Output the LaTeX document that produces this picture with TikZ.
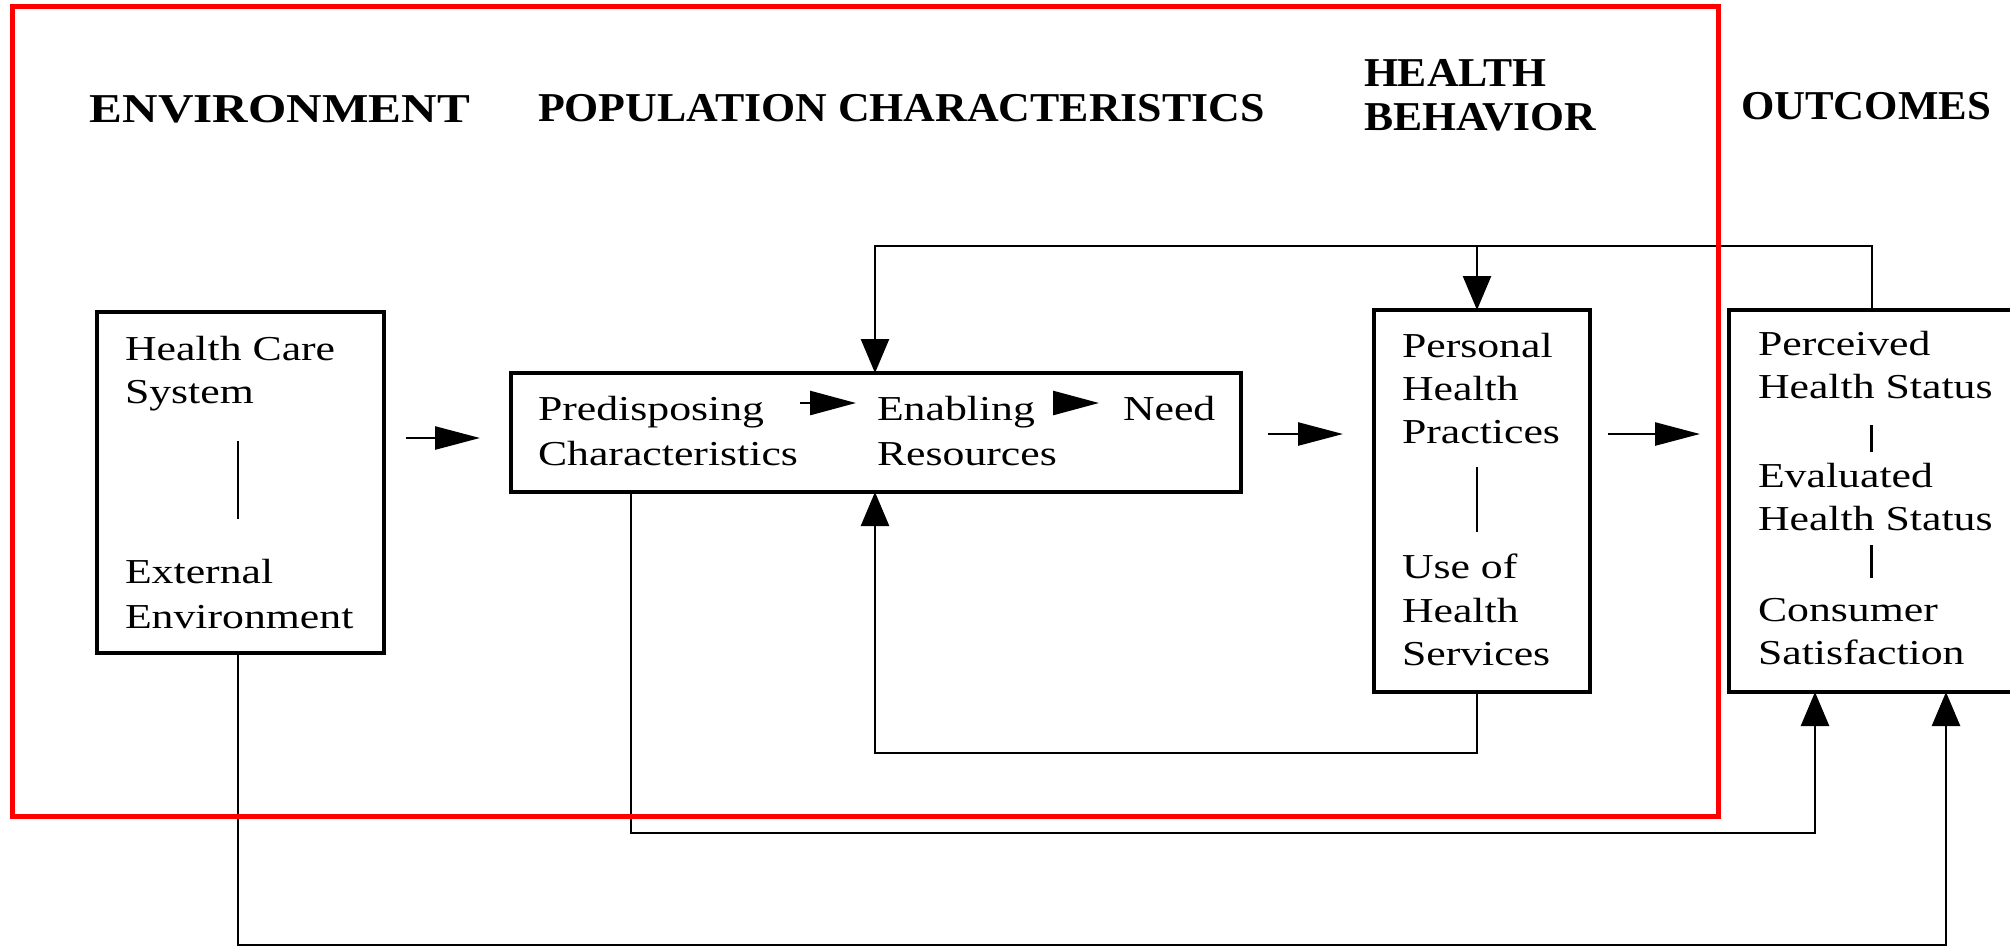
\documentclass[tikz,border=0pt]{standalone}
\usepackage{fontspec}
\setmainfont{Liberation Serif}
\usepackage{graphicx}
\usetikzlibrary{arrows.meta,fit,calc}
\newcommand\bt[1]{\scalebox{1.25}[1]{#1}}
\newcommand\hdr[2][1.065]{\scalebox{#1}[1]{#2}}
\begin{document}
\begin{tikzpicture}[x=0.5pt,y=-0.5pt,
  box/.style={draw, line width=2.2pt, inner sep=0pt, outer sep=0pt},
  conn/.style={line width=1.3pt},
  fb/.style={conn, -{Triangle[length=17pt,width=14pt]}},
  bigarr/.style={conn, -{Triangle[length=22.5pt,width=11.5pt]}},
  inarr/.style={conn, -{Triangle[length=23pt,width=12pt]}},
  txt/.style={anchor=base west, inner sep=0pt, outer sep=0pt, font=\fontsize{17.5}{21}\selectfont},
  hd/.style={anchor=base west, inner sep=0pt, outer sep=0pt, font=\fontsize{20.5}{24}\selectfont\bfseries},
  bar/.style={line width=1.2pt},
  obar/.style={line width=1.5pt},
  redframe/.style={draw=red, line width=2.5pt}]
\useasboundingbox (0,0) rectangle (2010,950);
\clip (0,0) rectangle (2010,950);

% headers
\node[hd] (hEnv) at (90,122) {\hdr[1.2]{ENVIRONMENT}};
\node[hd] (hPop) at (538,121) {\hdr[1.07]{POPULATION CHARACTERISTICS}};
\node[hd] (hHe) at (1364,86) {\hdr{HEALTH}};
\node[hd] (hBe) at (1364,130) {\hdr{BEHAVIOR}};
\node[hd] (hOut) at (1741,119) {\hdr[1.045]{OUTCOMES}};

% boxes
\node[box, fit={(97,312) (384,653)}] (env) {};
\node[box, fit={(511,373) (1241,492)}] (pop) {};
\node[box, fit={(1374,310) (1590,692)}] (beh) {};
\node[box, fit={(1729,310) (2060,692)}] (out) {};

% environment texts
\node[txt] (t1) at (125,360) {\bt{Health Care}};
\node[txt] (t2) at (125,403) {\bt{System}};
\node[txt] (t3) at (125,583) {\bt{External}};
\node[txt] (t4) at (125,628) {\bt{Environment}};
\coordinate (eb1) at (238,441);
\coordinate (eb2) at (238,519);
\draw[bar] (eb1) -- (eb2);

% population texts
\node[txt] (pred1) at (538,420) {\bt{Predisposing}};
\node[txt] (pred2) at (538,465) {\bt{Characteristics}};
\node[txt] (enab1) at (877,420) {\bt{Enabling}};
\node[txt] (enab2) at (877,465) {\bt{Resources}};
\node[txt] (need) at (1123,420) {\bt{Need}};
\coordinate (a1s) at (800,403);
\coordinate (a1e) at (856,403);
\coordinate (a2s) at (1053,403);
\coordinate (a2e) at (1099,403);
\draw[inarr] (a1s) -- (a1e);
\draw[inarr] (a2s) -- (a2e);

% behavior texts
\node[txt] (b1) at (1402,357) {\bt{Personal}};
\node[txt] (b2) at (1402,400) {\bt{Health}};
\node[txt] (b3) at (1402,443) {\bt{Practices}};
\node[txt] (b4) at (1402,578) {\bt{Use of}};
\node[txt] (b5) at (1402,622) {\bt{Health}};
\node[txt] (b6) at (1402,665) {\bt{Services}};
\coordinate (bb1) at (1477,467);
\coordinate (bb2) at (1477,532);
\draw[bar] (bb1) -- (bb2);

% outcomes texts
\node[txt] (o1) at (1758,355) {\bt{Perceived}};
\node[txt] (o2) at (1758,398) {\bt{Health Status}};
\node[txt] (o3) at (1758,487) {\bt{Evaluated}};
\node[txt] (o4) at (1758,530) {\bt{Health Status}};
\node[txt] (o5) at (1758,621) {\bt{Consumer}};
\node[txt] (o6) at (1758,664) {\bt{Satisfaction}};
\coordinate (ob1) at (1871,425);
\coordinate (ob2) at (1871,452);
\coordinate (ob3) at (1871,545);
\coordinate (ob4) at (1871,578);
\draw[obar] (ob1) -- (ob2);
\draw[obar] (ob3) -- (ob4);

% short arrows between boxes
\coordinate (y1) at (0,438);
\coordinate (y2) at (0,434);
\draw[bigarr, shorten <=11pt, shorten >=15.5pt] (env.east |- y1) -- (pop.west |- y1);
\draw[bigarr, shorten <=13.5pt, shorten >=15.5pt] (pop.east |- y2) -- (beh.west |- y2);
\draw[bigarr, shorten <=9pt, shorten >=14.5pt] (beh.east |- y2) -- (out.west |- y2);

% feedback loops
\coordinate (tl) at (875,246);
\coordinate (tr) at (1872,246);
\coordinate (bx) at (1477,0);
\draw[fb] (out.north -| tr) -- (tr) -- (tl) -- (pop.north -| tl);
\draw[fb] (tl -| bx) -- (beh.north -| bx);
\coordinate (bl) at (875,753);
\draw[fb] (beh.south -| bx) -- (bl -| bx) -- (bl) -- (pop.south -| bl);

\coordinate (p1) at (631,833);
\coordinate (p2) at (1815,833);
\draw[fb] (pop.south -| p1) -- (p1) -- (p2) -- (out.south -| p2);
\coordinate (e1) at (238,945);
\coordinate (e2) at (1946,945);
\draw[fb] (env.south -| e1) -- (e1) -- (e2) -- (out.south -| e2);

% red frame
\draw[redframe] (12,6) rectangle (1718,816);
\end{tikzpicture}
\end{document}
